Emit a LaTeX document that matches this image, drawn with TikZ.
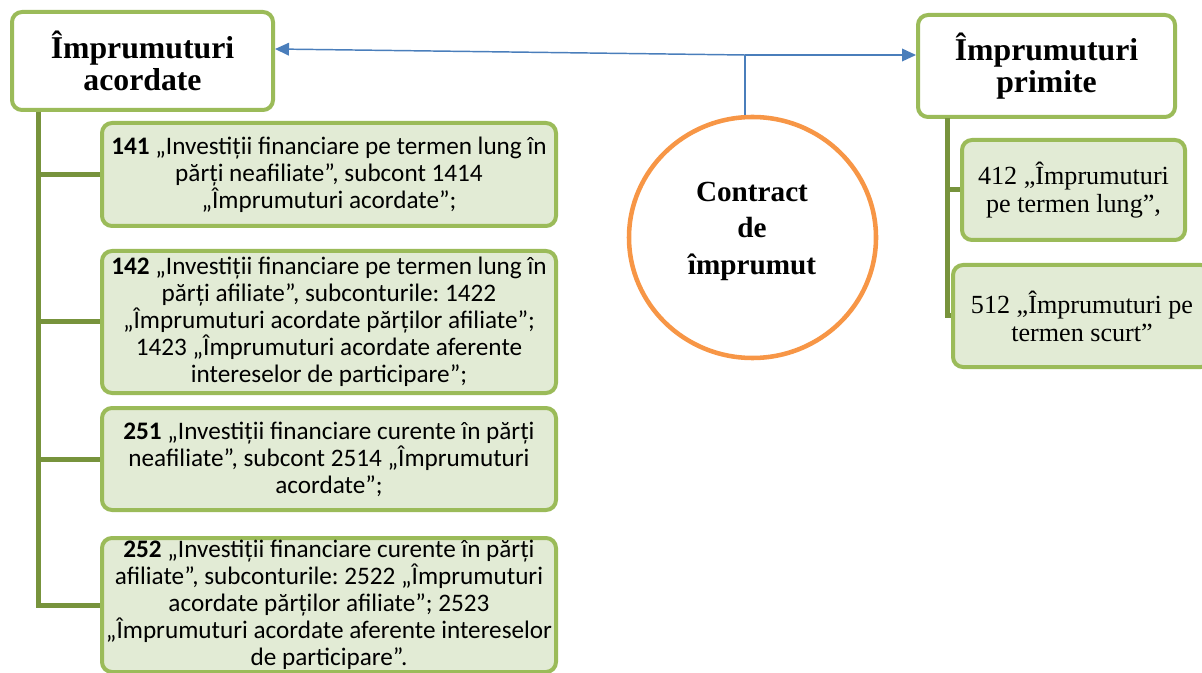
\documentclass[tikz,border=0pt]{standalone}
\usepackage{fontspec}
\setmainfont{Liberation Serif}
\newfontfamily\calibrifont{Carlito}
\usetikzlibrary{shapes.geometric, arrows.meta, positioning, calc}
\definecolor{boxgreen}{RGB}{155,187,89}
\definecolor{trunkgreen}{RGB}{119,147,60}
\definecolor{fillgreen}{RGB}{226,235,213}
\definecolor{ringorange}{RGB}{247,150,70}
\definecolor{linkblue}{RGB}{74,126,187}
\frenchspacing

\begin{document}
\begin{tikzpicture}[x=0.75pt, y=-0.75pt,
    head/.style={draw=boxgreen, line width=3pt, fill=white, rounded corners=7.5pt, align=center, inner sep=0pt, font=\fontsize{23.8}{24}\selectfont\bfseries},
    acct/.style={draw=boxgreen, line width=3pt, fill=fillgreen, rounded corners=7.5pt, align=center, inner sep=0pt, minimum width=340.5pt, font=\calibrifont\fontsize{18.9}{20.3}\selectfont},
    sub/.style={acct, font=\fontsize{19.6}{21}\selectfont},
    trunk/.style={draw=trunkgreen, line width=3.75pt},
    link/.style={draw=linkblue, line width=1.1pt}]
    \useasboundingbox (0,0) rectangle (1202,673);

    \node[head, minimum width=195.75pt, minimum height=73.5pt] (acordate) at (142.5,61) {Împrumuturi\\acordate};
    \node[head, minimum width=192.75pt, minimum height=76.5pt] (primite) at (1046.5,66) {Împrumuturi\\primite};

    \node[acct, minimum height=77.25pt] (c141) at (329,174.5) {\textbf{141} „Investiții financiare pe termen lung în\\părți neafiliate”, subcont 1414\\„Împrumuturi acordate”;};
    \node[acct, minimum height=106.5pt] (c142) at (329,322) {\textbf{142} „Investiții financiare pe termen lung în\\părți afiliate”, subconturile: 1422\\„Împrumuturi acordate părților afiliate”;\\1423 „Împrumuturi acordate aferente\\intereselor de participare”;};
    \node[acct, minimum height=76.5pt] (c251) at (329,459) {\textbf{251} „Investiții financiare curente în părți\\neafiliate”, subcont 2514 „Împrumuturi\\acordate”;};
    \node[acct, minimum height=100.5pt] (c252) at (329,605) {\textbf{252} „Investiții financiare curente în părți\\afiliate”, subconturile: 2522 „Împrumuturi\\acordate părților afiliate”; 2523\\„Împrumuturi acordate aferente intereselor\\de participare”.};

    \node[sub, minimum width=167.25pt, minimum height=75pt] (c412) at (1073.5,190) {412 „Împrumuturi\\pe termen lung”,};
    \node[sub, minimum width=193.5pt, minimum height=76.5pt] (c512) at (1082,316) {512 „Împrumuturi pe\\termen scurt”};

    \node[ellipse, draw=ringorange, line width=3.4pt, minimum width=185.25pt, minimum height=180.75pt, inner sep=0pt] (contract) at (752.5,237.5) {};
    \node[font=\fontsize{21.9}{27.4}\selectfont\bfseries, align=center, inner sep=0pt] (contracttext) at (752,231) {Contract\\de\\împrumut};

    \coordinate (split) at (745,55);
    \draw[link] (split |- contract.north) -- (split);
    \draw[link, -{Triangle[length=10.5pt, width=9.5pt]}] (split) -- ([yshift=9pt]acordate.east);
    \draw[link, -{Triangle[length=10.5pt, width=9.5pt]}] (split) -- (split -| primite.west);

    \coordinate (ltrunk) at (38,112);
    \draw[trunk] (ltrunk) |- (c252.west);
    \foreach \b in {c141,c142,c251}
        \draw[trunk] (\b.west -| ltrunk) -- (\b.west);
    \coordinate (rtrunk) at (947,118);
    \draw[trunk] (rtrunk) |- (c512.west);
    \draw[trunk] (c412.west -| rtrunk) -- (c412.west);
\end{tikzpicture}
\end{document}
